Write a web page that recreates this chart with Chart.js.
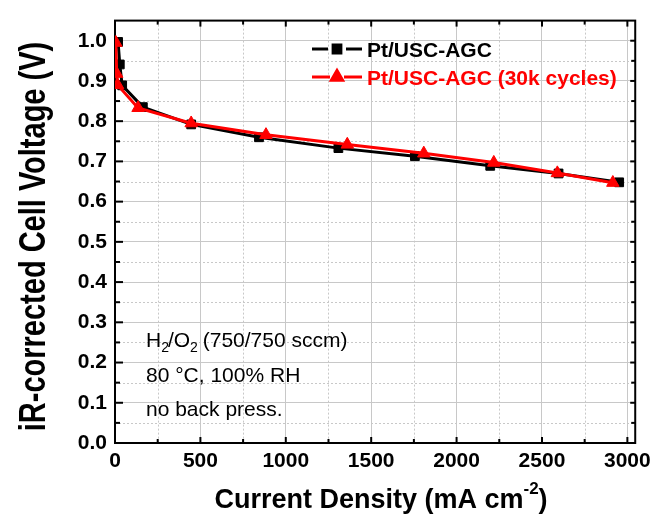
<!DOCTYPE html>
<html>
<head>
<meta charset="utf-8">
<script src="https://cdn.jsdelivr.net/npm/chart.js@4.4.1/dist/chart.umd.min.js"></script>
<style>
html,body{margin:0;padding:0;background:#fff;}
#wrap{width:657px;height:517px;}
</style>
</head>
<body>
<div id="wrap"><canvas id="c" width="657" height="517"></canvas></div>
<script>
// ---- data ----
const seriesNames = ['Pt/USC-AGC', 'Pt/USC-AGC (30k cycles)'];
const pristineX = [18, 28, 42, 163, 446, 843, 1308, 1756, 2197, 2597, 2952];
const pristineY = [0.997, 0.941, 0.889, 0.835, 0.792, 0.760, 0.733, 0.713, 0.689, 0.670, 0.648];
const cycledX = [5, 10, 15, 135, 446, 884, 1360, 1808, 2218, 2590, 2915];
const cycledY = [0.995, 0.918, 0.890, 0.833, 0.795, 0.766, 0.742, 0.720, 0.697, 0.671, 0.647];

const xTickValues = [0, 500, 1000, 1500, 2000, 2500, 3000];
const xMinorValues = [250, 750, 1250, 1750, 2250, 2750];
const yTickValues = [0.0, 0.1, 0.2, 0.3, 0.4, 0.5, 0.6, 0.7, 0.8, 0.9, 1.0];
const yMinorValues = [0.05, 0.15, 0.25, 0.35, 0.45, 0.55, 0.65, 0.75, 0.85, 0.95, 1.05];

const xTitleMain = 'Current Density (mA cm';
const xTitleSup = '-2';
const xTitleEnd = ')';
const yTitle = 'iR-corrected Cell Voltage (V)';
const noteLines = ['H2/O2 (750/750 sccm)', '80 °C, 100% RH', 'no back press.'];

const FONT = "'Liberation Sans', Arial, sans-serif";
const GRID = '#c8c8c8';

const toPts = (xs, ys) => xs.map((x, i) => ({x: x, y: ys[i]}));

const decorPlugin = {
  id: 'decor',
  beforeDatasetsDraw(chart) {
    const {ctx, chartArea: a, scales: {x, y}} = chart;
    ctx.save();
    // minor dotted grid
    ctx.strokeStyle = GRID;
    ctx.lineWidth = 1;
    ctx.setLineDash([2, 2]);
    xMinorValues.forEach(v => {
      const px = Math.round(x.getPixelForValue(v)) + 0.5;
      ctx.beginPath(); ctx.moveTo(px, a.top); ctx.lineTo(px, a.bottom); ctx.stroke();
    });
    yMinorValues.forEach(v => {
      const py = Math.round(y.getPixelForValue(v)) + 0.5;
      if (py <= a.top + 1) return;
      ctx.beginPath(); ctx.moveTo(a.left, py); ctx.lineTo(a.right, py); ctx.stroke();
    });
    ctx.setLineDash([]);
    // frame
    ctx.strokeStyle = '#000';
    ctx.lineWidth = 2;
    ctx.strokeRect(a.left, a.top, a.right - a.left, a.bottom - a.top);
    // inward ticks
    const tick = (x1, y1, x2, y2) => { ctx.beginPath(); ctx.moveTo(x1, y1); ctx.lineTo(x2, y2); ctx.stroke(); };
    ctx.lineWidth = 2;
    xTickValues.forEach(v => {
      const px = x.getPixelForValue(v);
      tick(px, a.bottom, px, a.bottom - 6);
      tick(px, a.top, px, a.top + 6);
    });
    xMinorValues.forEach(v => {
      const px = x.getPixelForValue(v);
      tick(px, a.bottom, px, a.bottom - 4);
      tick(px, a.top, px, a.top + 4);
    });
    yTickValues.forEach(v => {
      const py = y.getPixelForValue(v);
      tick(a.left, py, a.left + 8, py);
      tick(a.right, py, a.right - 5, py);
    });
    yMinorValues.forEach(v => {
      const py = y.getPixelForValue(v);
      if (py <= a.top + 1) return;
      tick(a.left, py, a.left + 5, py);
      tick(a.right, py, a.right - 4, py);
    });
    ctx.restore();
  },
  afterDraw(chart) {
    const {ctx} = chart;
    ctx.save();
    ctx.fillStyle = '#000';
    ctx.textBaseline = 'alphabetic';

    // legend: line - marker - line with small gaps
    const legY = [49, 77];
    const legBase = [56.5, 84.5];
    const legR = [5.5, 6.5];
    chart.data.datasets.forEach((ds, i) => {
      ctx.strokeStyle = ds.borderColor;
      ctx.lineWidth = 3;
      const gap = i === 0 ? 9 : 7;
      ctx.beginPath(); ctx.moveTo(312, legY[i]); ctx.lineTo(337 - gap, legY[i]); ctx.stroke();
      ctx.beginPath(); ctx.moveTo(337 + gap, legY[i]); ctx.lineTo(362, legY[i]); ctx.stroke();
      ctx.fillStyle = ds.borderColor;
      Chart.helpers.drawPoint(ctx, {
        pointStyle: ds.pointStyle, radius: legR[i], rotation: 0, borderWidth: 1
      }, 337, legY[i]);
      ctx.font = 'bold 21px ' + FONT;
      ctx.textAlign = 'left';
      ctx.fillText(ds.label, 367, legBase[i]);
    });
    ctx.fillStyle = '#000';

    // x title with superscript
    const fMain = 'bold 27px ' + FONT, fSup = 'bold 17px ' + FONT;
    ctx.font = fMain; const w1 = ctx.measureText(xTitleMain).width; const w3 = ctx.measureText(xTitleEnd).width;
    ctx.font = fSup; const w2 = ctx.measureText(xTitleSup).width;
    let sx = 381 - (w1 + w2 + w3) / 2;
    ctx.textAlign = 'left';
    ctx.font = fMain; ctx.fillText(xTitleMain, sx, 508); sx += w1;
    ctx.font = fSup; ctx.fillText(xTitleSup, sx, 494); sx += w2;
    ctx.font = fMain; ctx.fillText(xTitleEnd, sx, 508);

    // y title (rotated)
    ctx.save();
    ctx.translate(45, 236.5);
    ctx.rotate(-Math.PI / 2);
    ctx.scale(1, 1.3);
    ctx.font = 'bold 29px ' + FONT;
    ctx.textAlign = 'center';
    ctx.fillText(yTitle, 0, 0);
    ctx.restore();

    // annotation
    const fN = '21px ' + FONT, fS = '14px ' + FONT;
    const drawRich = (parts, x0, base) => {
      let cx = x0;
      parts.forEach(p => {
        ctx.font = p.sub ? fS : fN;
        ctx.fillText(p.t, cx, base + (p.sub ? 5 : 0));
        cx += ctx.measureText(p.t).width + (p.sub ? -1 : 0);
      });
    };
    ctx.textAlign = 'left';
    const l1 = noteLines[0];
    drawRich([{t: l1.slice(0, 1)}, {t: l1.slice(1, 2), sub: true}, {t: l1.slice(2, 4)}, {t: l1.slice(4, 5), sub: true}, {t: l1.slice(5)}], 146, 347);
    ctx.font = fN;
    ctx.fillText(noteLines[1], 146, 382);
    ctx.fillText(noteLines[2], 146, 416);
    ctx.restore();
  }
};

new Chart(document.getElementById('c'), {
  type: 'scatter',
  data: {
    datasets: [
      {
        label: seriesNames[0],
        data: toPts(pristineX, pristineY),
        showLine: true,
        borderColor: '#000000',
        backgroundColor: '#000000',
        borderWidth: 3,
        pointStyle: 'rect',
        pointRadius: 6.2,
        pointBorderWidth: 1,
        pointBorderColor: '#000000',
        pointBackgroundColor: '#000000',
        tension: 0,
        order: 1
      },
      {
        label: seriesNames[1],
        data: toPts(cycledX, cycledY),
        showLine: true,
        borderColor: '#ff0000',
        backgroundColor: '#ff0000',
        borderWidth: 3,
        pointStyle: 'triangle',
        pointRadius: 7.2,
        pointBorderWidth: 1,
        pointBorderColor: '#ff0000',
        pointBackgroundColor: '#ff0000',
        tension: 0,
        order: 0
      }
    ]
  },
  options: {
    responsive: false,
    animation: false,
    devicePixelRatio: 1,
    layout: {padding: {top: 18, right: 18, left: 0, bottom: 0}},
    plugins: {legend: {display: false}, tooltip: {enabled: false}},
    scales: {
      x: {
        type: 'linear',
        min: 0,
        max: 3046,
        afterBuildTicks: s => { s.ticks = xTickValues.map(v => ({value: v})); },
        afterFit: s => { s.height = 74; },
        grid: {color: GRID, lineWidth: 1, drawTicks: false},
        border: {display: false},
        ticks: {
          color: '#000',
          font: {family: FONT, weight: 'bold', size: 21},
          padding: 6,
          maxRotation: 0,
          autoSkip: false,
          callback: v => String(v)
        }
      },
      y: {
        type: 'linear',
        min: 0,
        max: 1.05,
        afterBuildTicks: s => { s.ticks = yTickValues.map(v => ({value: v})); },
        afterFit: s => { s.width = 115; },
        grid: {color: GRID, lineWidth: 1, drawTicks: false},
        border: {display: false},
        ticks: {
          color: '#000',
          font: {family: FONT, weight: 'bold', size: 21},
          padding: 8,
          autoSkip: false,
          callback: v => Number(v).toFixed(1)
        }
      }
    }
  },
  plugins: [decorPlugin]
});
</script>
</body>
</html>
